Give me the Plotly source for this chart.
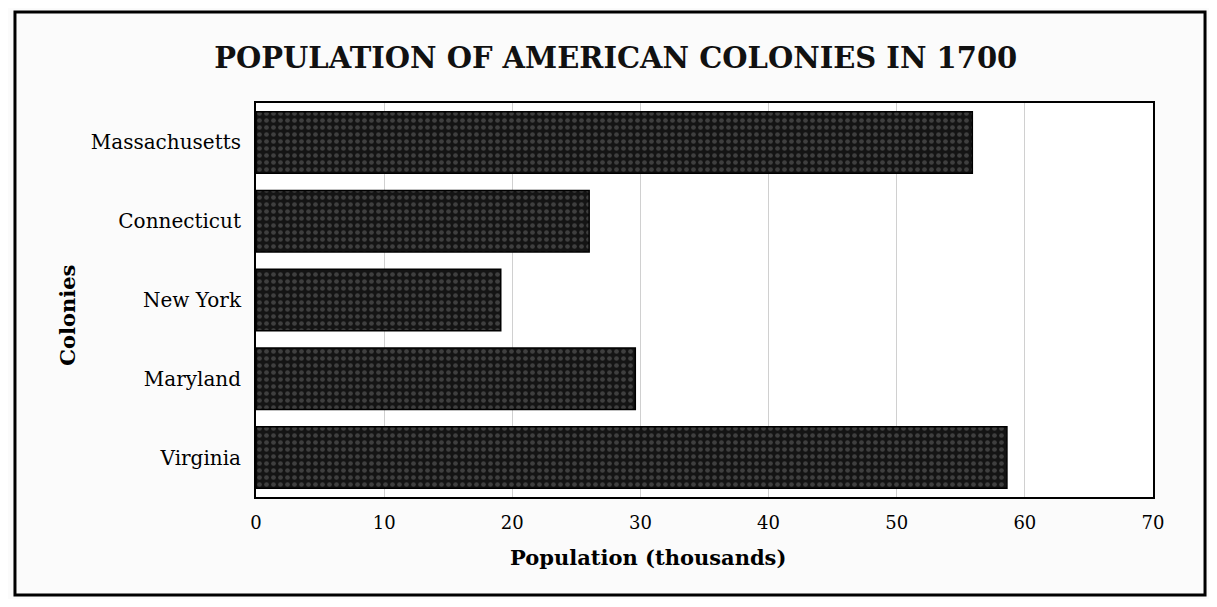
import plotly.graph_objects as go

# Datos (miles de habitantes, 1700)
colonias = ["Massachusetts", "Connecticut", "New York", "Maryland", "Virginia"]
poblacion = [55.9, 26.0, 19.1, 29.6, 58.6]
ticks_x = [0, 10, 20, 30, 40, 50, 60, 70]

fuente = "DejaVu Serif"

fig = go.Figure()

fig.add_trace(go.Bar(
    x=poblacion,
    y=colonias,
    orientation='h',
    marker=dict(
        color='#141414',
        line=dict(color='black', width=1.5),
        pattern=dict(shape='.', fgcolor='#6a6a6a', bgcolor='#141414',
                     size=7, solidity=0.35),
    ),
    hovertemplate='<b>%{y}</b><br>%{x} mil<extra></extra>',
))

# la página tiene 8px de margen en el body, así que el lienzo es 16px menor
fig.update_layout(
    width=1201,
    height=591,
    paper_bgcolor='#fbfbfb',
    plot_bgcolor='white',
    showlegend=False,
    margin=dict(l=248, r=56, t=95, b=102),
    bargap=0.22,
    font=dict(family=fuente, size=18, color='black'),
    title=dict(
        text="<b>POPULATION OF AMERICAN COLONIES IN 1700</b>",
        x=0.506, xanchor='center',
        y=0.915, yanchor='middle',
        font=dict(family=fuente, size=29, color='#111111'),
    ),
    xaxis=dict(
        range=[0, 70],
        tickvals=ticks_x,
        showgrid=True,
        gridcolor='#d0d0d0',
        gridwidth=1,
        showline=True, linecolor='black', linewidth=2, mirror=True,
        ticks='', ticklabelstandoff=8,
        zeroline=False,
    ),
    yaxis=dict(
        categoryorder='array',
        categoryarray=colonias[::-1],
        showgrid=False,
        showline=True, linecolor='black', linewidth=2, mirror=True,
        ticks='', ticklabelstandoff=9,
        tickfont=dict(size=20),
    ),
    annotations=[
        dict(text="<b>Population (thousands)</b>", xref='paper', yref='paper',
             x=0.437, y=-0.19, showarrow=False,
             font=dict(family=fuente, size=21)),
        dict(text="<b>Colonies</b>", xref='paper', yref='paper',
             x=-0.226, y=0.462, showarrow=False, textangle=-90,
             font=dict(family=fuente, size=21)),
    ],
    shapes=[
        # marco exterior de la figura
        dict(type='rect', xref='paper', yref='paper',
             x0=-0.2687, x1=1.058, y0=-0.2487, y1=1.231,
             line=dict(color='black', width=3), layer='below'),
    ],
)

fig.write_html("out.html")
